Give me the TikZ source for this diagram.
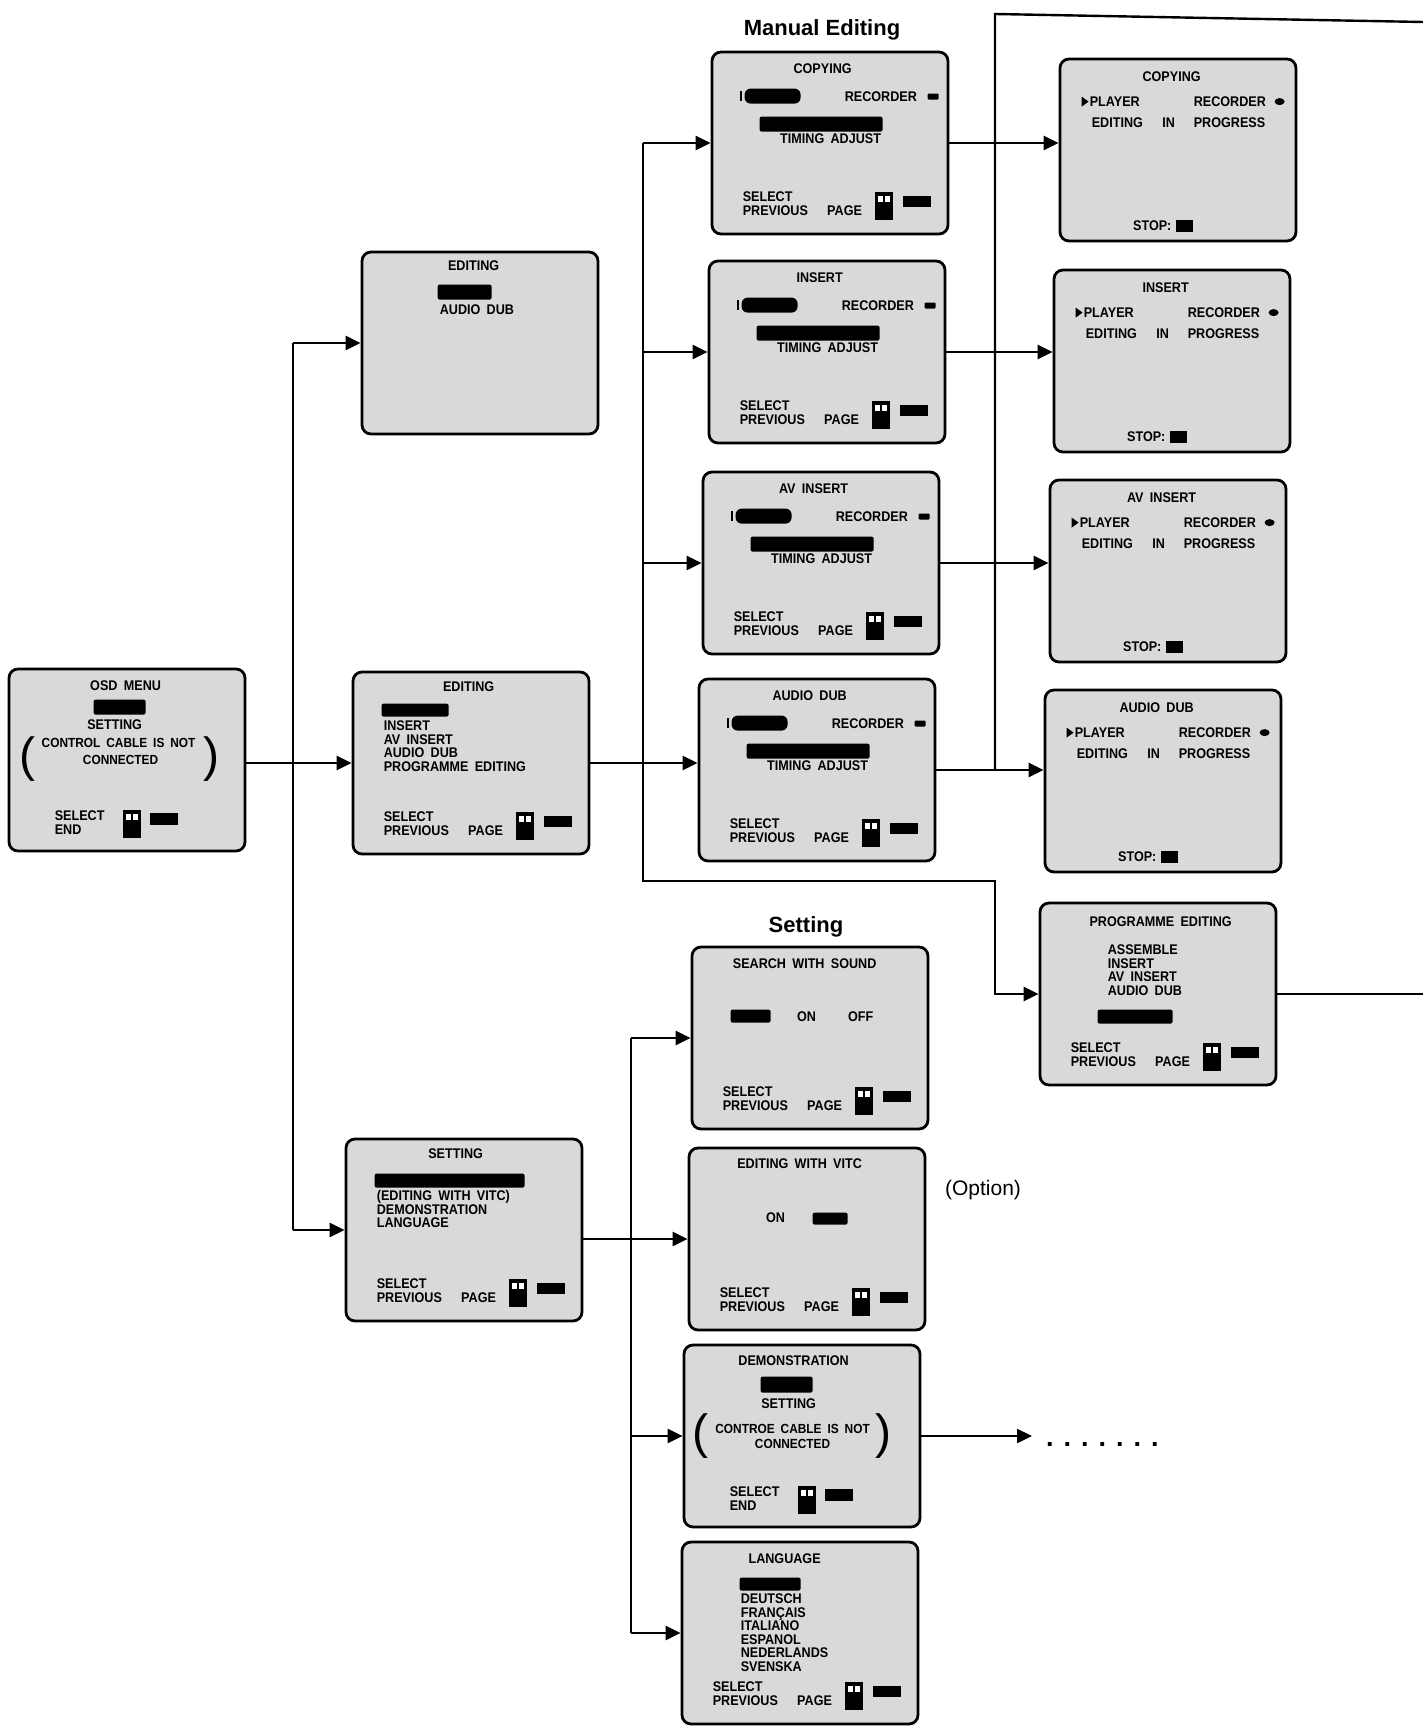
\documentclass[tikz,border=0pt]{standalone}
\usepackage{fontspec}
\setsansfont{Liberation Sans}
\newfontfamily\osdfont[FakeStretch=0.9,WordSpace=1.8]{Liberation Sans}
\usetikzlibrary{positioning,arrows.meta,calc}

\tikzset{
  screen/.style={draw, line width=2.8pt, fill=black!15, rounded corners=9pt,
    minimum width=236pt, minimum height=182pt, inner sep=0pt},
  osd/.style={font=\osdfont\bfseries\fontsize{14}{13.5}\selectfont, inner sep=0pt},
  osdl/.style={osd, anchor=west},
  osdnarrow/.style={font=\osdfont\bfseries\fontsize{13.2}{13.5}\selectfont, inner sep=0pt},
  osdblock/.style={osd, anchor=north west, align=left},
  paren/.style={font=\sffamily\fontsize{48}{48}\selectfont, inner sep=0pt},
  hibar/.style={fill=black, rounded corners=2pt},
  wire/.style={line width=2.4pt},
  arr/.style={wire, -{Triangle[length=15pt,width=14pt]}},
  heading/.style={font=\sffamily\bfseries\fontsize{22}{22}\selectfont},
  note/.style={font=\sffamily\fontsize{21}{21}\selectfont},
}

% remote key symbol, top left corner at #1,#2 (screen coords)
\newcommand{\keyicon}[2]{%
  \fill (#1,#2) rectangle ({#1+18},{#2+28});
  \fill[white] ({#1+3},{#2+4}) rectangle ({#1+8},{#2+10});
  \fill[white] ({#1+10},{#2+4}) rectangle ({#1+15},{#2+10});
}
% footer lines
\newcommand{\selpage}[1]{%
  \node[osdl] (#1-sel) at (32,146) {SELECT};
  \node[osdl] (#1-prev) at (32,160) {PREVIOUS};
  \node[osd] (#1-page) at (134,160) {PAGE};
  \keyicon{164}{141}
  \fill (192,145) rectangle (220,156);
}
\newcommand{\selend}[1]{%
  \node[osdl] (#1-sel) at (47,148) {SELECT};
  \node[osdl] (#1-end) at (47,162) {END};
  \keyicon{115}{142}
  \fill (142,145) rectangle (170,157);
}
% manual editing screen body
\newcommand{\manualbody}[1]{%
  \fill (29,40) rectangle (31,50);
  \fill[rounded corners=6pt] (34,38) rectangle (90,53);
  \node[osdl] (#1-rec) at (134,46) {RECORDER};
  \fill[rounded corners=1pt] (217,43) rectangle (228,49);
  \fill[hibar] (49,66) rectangle (172,81);
  \node[osd] (#1-adj) at (120,88) {TIMING ADJUST};
  \selpage{#1}
}
% editing in progress screen body
\newcommand{\runbody}[1]{%
  \fill (23,39) -- (30,44) -- (23,49) -- cycle;
  \node[osdl] (#1-play) at (31,44) {PLAYER};
  \node[osdl] (#1-rec) at (135,44) {RECORDER};
  \fill (221,44) ellipse [x radius=5pt, y radius=3.5pt];
  \node[osdl] (#1-edt) at (33,65) {EDITING};
  \node[osd] (#1-in) at (110,65) {IN};
  \node[osdl] (#1-prog) at (135,65) {PROGRESS};
  \node[osd, anchor=east] (#1-stop) at (113,168) {STOP:};
  \fill (117,162) rectangle (134,174);
}

\begin{document}
\begin{tikzpicture}[x=1pt, y=-1pt]
  \path[fill=white] (0,0) rectangle (1423,1731);
  \useasboundingbox (0,0) rectangle (1423,1731);

  % ===== screens =====
  \node[screen] (osd) at (127,760) {};
  \node[screen] (edit1) at (480,343) {};
  \node[screen] (edit) at (471,763) {};
  \node[screen] (setg) at (464,1230) {};

  \node[screen] (copy) at (830,143) {};
  \node[screen] (ins) at (827,352) {};
  \node[screen] (avins) at (821,563) {};
  \node[screen] (adub) at (817,770) {};

  \node[screen] (copyR) at (1178,150) {};
  \node[screen] (insR) at (1172,361) {};
  \node[screen] (avinsR) at (1168,571) {};
  \node[screen] (adubR) at (1163,781) {};
  \node[screen] (prog) at (1158,994) {};

  \node[screen] (search) at (810,1038) {};
  \node[screen] (vitc) at (807,1239) {};
  \node[screen] (demo) at (802,1436) {};
  \node[screen] (lang) at (800,1633) {};

  % ===== headings =====
  \node[heading] (manhead) at (822,30) {Manual Editing};
  \node[heading] (sethead) at (806,927) {Setting};
  \node[note] (option) at (983,1190) {(Option)};

  % ===== screen texts =====
  \begin{scope}[shift={(osd.north west)}]
    \node[osd] (osd-title) at (118,18) {OSD MENU};
    \fill[hibar] (86,32) rectangle (138,47);
    \node[osd] (osd-set) at (107,57) {SETTING};
    \node[paren] (osd-lp) at (20,91) {(};
    \node[osdnarrow] (osd-l1) at (111,75) {CONTROL CABLE IS NOT};
    \node[osdnarrow] (osd-l2) at (113,92) {CONNECTED};
    \node[paren] (osd-rp) at (204,91) {)};
    \selend{osd}
  \end{scope}

  \begin{scope}[shift={(edit1.north west)}]
    \node[osd] (edit1-title) at (113,15) {EDITING};
    \fill[hibar] (77,34) rectangle (131,49);
    \node[osdl] (edit1-dub) at (79,59) {AUDIO DUB};
  \end{scope}

  \begin{scope}[shift={(edit.north west)}]
    \node[osd] (edit-title) at (117,16) {EDITING};
    \fill[hibar] (30,33) rectangle (97,46);
    \node[osdblock] (edit-list) at (32,50) {INSERT\\AV INSERT\\AUDIO DUB\\PROGRAMME EDITING};
    \selpage{edit}
  \end{scope}

  \begin{scope}[shift={(setg.north west)}]
    \node[osd] (setg-title) at (111,16) {SETTING};
    \fill[hibar] (30,36) rectangle (180,50);
    \node[osdblock] (setg-list) at (32,53) {(EDITING WITH VITC)\\DEMONSTRATION\\LANGUAGE};
    \selpage{setg}
  \end{scope}

  \begin{scope}[shift={(copy.north west)}]
    \node[osd] (copy-title) at (112,18) {COPYING};
    \manualbody{copy}
  \end{scope}
  \begin{scope}[shift={(ins.north west)}]
    \node[osd] (ins-title) at (112,18) {INSERT};
    \manualbody{ins}
  \end{scope}
  \begin{scope}[shift={(avins.north west)}]
    \node[osd] (avins-title) at (112,18) {AV INSERT};
    \manualbody{avins}
  \end{scope}
  \begin{scope}[shift={(adub.north west)}]
    \node[osd] (adub-title) at (112,18) {AUDIO DUB};
    \manualbody{adub}
  \end{scope}

  \begin{scope}[shift={(copyR.north west)}]
    \node[osd] (copyR-title) at (113,19) {COPYING};
    \runbody{copyR}
  \end{scope}
  \begin{scope}[shift={(insR.north west)}]
    \node[osd] (insR-title) at (113,19) {INSERT};
    \runbody{insR}
  \end{scope}
  \begin{scope}[shift={(avinsR.north west)}]
    \node[osd] (avinsR-title) at (113,19) {AV INSERT};
    \runbody{avinsR}
  \end{scope}
  \begin{scope}[shift={(adubR.north west)}]
    \node[osd] (adubR-title) at (113,19) {AUDIO DUB};
    \runbody{adubR}
  \end{scope}

  \begin{scope}[shift={(prog.north west)}]
    \node[osd] (prog-title) at (122,20) {PROGRAMME EDITING};
    \node[osdblock] (prog-list) at (69,43) {ASSEMBLE\\INSERT\\AV INSERT\\AUDIO DUB};
    \fill[hibar] (59,108) rectangle (134,122);
    \selpage{prog}
  \end{scope}

  \begin{scope}[shift={(search.north west)}]
    \node[osd] (search-title) at (114,18) {SEARCH WITH SOUND};
    \fill[hibar] (40,64) rectangle (80,77);
    \node[osd] (search-on) at (116,71) {ON};
    \node[osd] (search-off) at (170,71) {OFF};
    \selpage{search}
  \end{scope}

  \begin{scope}[shift={(vitc.north west)}]
    \node[osd] (vitc-title) at (112,17) {EDITING WITH VITC};
    \node[osd] (vitc-on) at (88,71) {ON};
    \fill[hibar] (125,66) rectangle (160,78);
    \selpage{vitc}
  \end{scope}

  \begin{scope}[shift={(demo.north west)}]
    \node[osd] (demo-title) at (111,17) {DEMONSTRATION};
    \fill[hibar] (78,33) rectangle (130,49);
    \node[osd] (demo-set) at (106,60) {SETTING};
    \node[paren] (demo-lp) at (18,92) {(};
    \node[osdnarrow] (demo-l1) at (110,85) {CONTROE CABLE IS NOT};
    \node[osdnarrow] (demo-l2) at (110,100) {CONNECTED};
    \node[paren] (demo-rp) at (201,92) {)};
    \selend{demo}
  \end{scope}

  \begin{scope}[shift={(lang.north west)}]
    \node[osd] (lang-title) at (104,18) {LANGUAGE};
    \fill[hibar] (59,37) rectangle (120,50);
    \node[osdblock] (lang-list) at (60,53) {DEUTSCH\\FRANÇAIS\\ITALIANO\\ESPANOL\\NEDERLANDS\\SVENSKA};
    \selpage{lang}
  \end{scope}

  % ===== connectors =====
  \coordinate (bus1) at (293,760);
  \draw[arr] (osd.east |- edit.west) -- (edit.west);
  \draw[wire] (bus1 |- edit1.west) -- (bus1 |- setg.west);
  \draw[arr] (bus1 |- edit1.west) -- (edit1.west);
  \draw[arr] (bus1 |- setg.west) -- (setg.west);

  % editing bus, programme editing branch at the bottom
  \coordinate (bus2) at (643,763);
  \coordinate (progbus) at (995,881);
  \draw[arr] (edit.east) -- (edit.east -| adub.west);
  \draw[arr] (bus2 |- copy.west) -- (bus2 |- progbus) -- (progbus) |- (prog.west);
  \draw[arr] (bus2 |- copy.west) -- (copy.west);
  \draw[arr] (bus2 |- ins.west) -- (ins.west);
  \draw[arr] (bus2 |- avins.west) -- (avins.west);

  % to the running screens
  \draw[arr] (copy.east) -- (copy.east -| copyR.west);
  \draw[arr] (ins.east) -- (ins.east -| insR.west);
  \draw[arr] (avins.east) -- (avins.east -| avinsR.west);
  \draw[arr] (adub.east) -- (adub.east -| adubR.west);

  % return line from the next page
  \coordinate (retbus) at (995,14);
  \coordinate (retedge) at (1423,22);
  \draw[wire] (retedge) -- (retbus) -- (retbus |- adub.east);
  \coordinate (progedge) at (1423,994);
  \draw[wire] (prog.east) -- (progedge);

  % setting bus
  \coordinate (bus4) at (631,1239);
  \draw[arr] (setg.east |- vitc.west) -- (vitc.west);
  \draw[wire] (bus4 |- search.west) -- (bus4 |- lang.west);
  \draw[arr] (bus4 |- search.west) -- (search.west);
  \draw[arr] (bus4 |- demo.west) -- (demo.west);
  \draw[arr] (bus4 |- lang.west) -- (lang.west);

  \coordinate (demoend) at (1032,1436);
  \draw[arr] (demo.east) -- (demoend);
  \node[font=\sffamily\bfseries\fontsize{27}{27}\selectfont, anchor=base west, inner sep=0pt]
    (more) at (1046,1446) {. . . . . . .};

\end{tikzpicture}
\end{document}
